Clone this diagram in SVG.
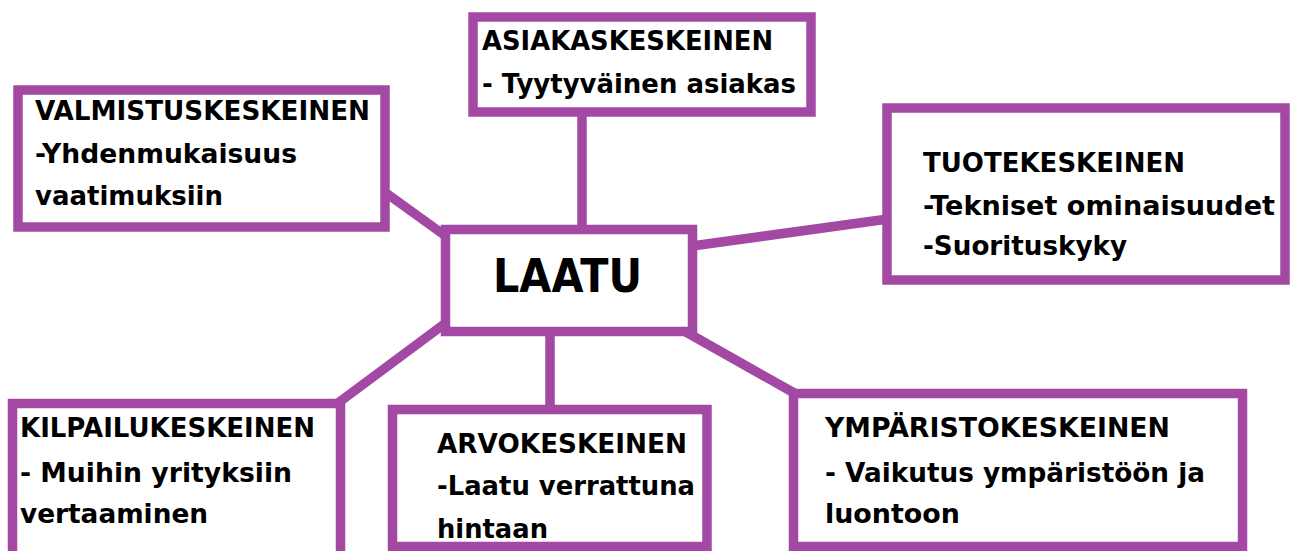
<svg xmlns="http://www.w3.org/2000/svg" width="1297" height="551" viewBox="0 0 1297 551">
<style>
.box{fill:#fff;stroke:#A349A4;stroke-width:9.5}
.con{stroke:#A349A4;stroke-width:9.5;fill:none}
.t{font-family:"DejaVu Sans","Liberation Sans",sans-serif;font-weight:bold;font-size:27px;fill:#000}
.big{font-family:"DejaVu Sans","Liberation Sans",sans-serif;font-weight:bold;font-size:47px;fill:#000}
</style>
<rect width="1297" height="551" fill="#fff"/>
<g id="connectors">
<line class="con" x1="582" y1="112" x2="582" y2="230"/>
<line class="con" x1="386" y1="193" x2="447" y2="237"/>
<line class="con" x1="692" y1="246" x2="888" y2="219"/>
<line class="con" x1="338" y1="403" x2="447" y2="322"/>
<line class="con" x1="550" y1="330" x2="550" y2="410"/>
<line class="con" x1="686" y1="332" x2="796" y2="394"/>
</g>
<g id="laatu">
<rect class="box" x="445.5" y="229.5" width="247" height="102"/>
<text class="big" x="493" y="292" textLength="149" lengthAdjust="spacingAndGlyphs">LAATU</text>
</g>
<g id="valmistus">
<rect class="box" x="18" y="90" width="367" height="137"/>
<text class="t" x="35" y="120" textLength="335" lengthAdjust="spacingAndGlyphs">VALMISTUSKESKEINEN</text>
<text class="t" x="35" y="163" textLength="262" lengthAdjust="spacingAndGlyphs">-Yhdenmukaisuus</text>
<text class="t" x="35" y="205" textLength="188" lengthAdjust="spacingAndGlyphs">vaatimuksiin</text>
</g>
<g id="asiakas">
<rect class="box" x="473" y="17" width="338" height="95"/>
<text class="t" x="482" y="50" textLength="291" lengthAdjust="spacingAndGlyphs">ASIAKASKESKEINEN</text>
<text class="t" x="482" y="93" textLength="314" lengthAdjust="spacingAndGlyphs">- Tyytyväinen asiakas</text>
</g>
<g id="tuote">
<rect class="box" x="887" y="108" width="398" height="172"/>
<text class="t" x="923" y="172" textLength="262" lengthAdjust="spacingAndGlyphs">TUOTEKESKEINEN</text>
<text class="t" x="923" y="215" textLength="352" lengthAdjust="spacingAndGlyphs">-Tekniset ominaisuudet</text>
<text class="t" x="923" y="255" textLength="204" lengthAdjust="spacingAndGlyphs">-Suorituskyky</text>
</g>
<g id="kilpailu">
<rect class="box" x="12.5" y="403.5" width="328" height="170"/>
<text class="t" x="20" y="437" textLength="295" lengthAdjust="spacingAndGlyphs">KILPAILUKESKEINEN</text>
<text class="t" x="20" y="482" textLength="272" lengthAdjust="spacingAndGlyphs">- Muihin yrityksiin</text>
<text class="t" x="20" y="523" textLength="188" lengthAdjust="spacingAndGlyphs">vertaaminen</text>
</g>
<g id="arvo">
<rect class="box" x="392.5" y="409.5" width="314.5" height="137"/>
<text class="t" x="437" y="453" textLength="250" lengthAdjust="spacingAndGlyphs">ARVOKESKEINEN</text>
<text class="t" x="437" y="495" textLength="258" lengthAdjust="spacingAndGlyphs">-Laatu verrattuna</text>
<text class="t" x="437" y="538" textLength="111" lengthAdjust="spacingAndGlyphs">hintaan</text>
</g>
<g id="ymparisto">
<rect class="box" x="793.5" y="393.5" width="449" height="153"/>
<text class="t" x="825" y="437" textLength="345" lengthAdjust="spacingAndGlyphs">YMPÄRISTOKESKEINEN</text>
<text class="t" x="825" y="482" textLength="380" lengthAdjust="spacingAndGlyphs">- Vaikutus ympäristöön ja</text>
<text class="t" x="825" y="523" textLength="135" lengthAdjust="spacingAndGlyphs">luontoon</text>
</g>
</svg>
